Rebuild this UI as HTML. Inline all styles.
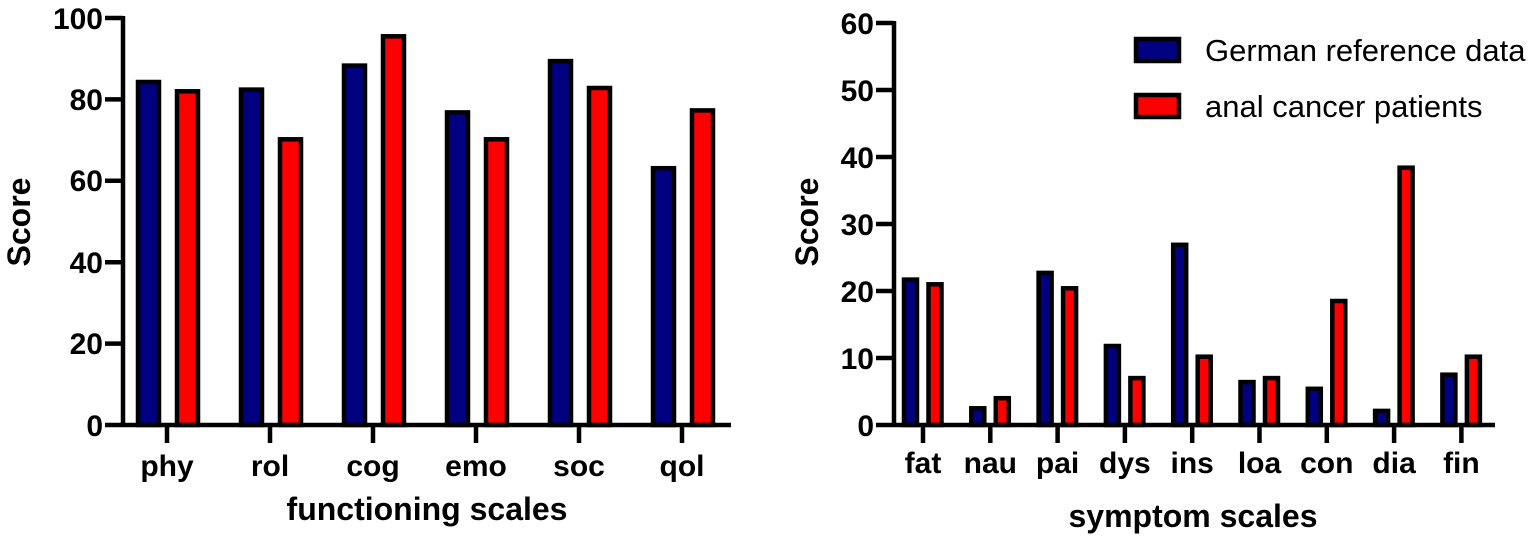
<!DOCTYPE html>
<html><head><meta charset="utf-8"><style>
html,body{margin:0;padding:0;background:#fff;}
svg{display:block;font-family:"Liberation Sans",Arial,sans-serif;}
.t{font-size:30px;font-weight:bold;fill:#000;}
.ti{font-size:32px;font-weight:bold;fill:#000;}
.b{fill:#000080;stroke:#000;stroke-width:4.5;}
.r{fill:#ff0000;stroke:#000;stroke-width:4.5;}
.ax{stroke:#000;stroke-width:4.5;fill:none;}
</style></head><body>
<svg width="1536" height="537" viewBox="0 0 1536 537">
<g>
<rect class="b" x="138" y="82" width="21" height="343"/>
<rect class="r" x="177" y="91.3" width="21" height="333.7"/>
<rect class="b" x="241" y="89.6" width="21" height="335.4"/>
<rect class="r" x="280" y="139.3" width="21" height="285.7"/>
<rect class="b" x="344" y="65.6" width="21" height="359.4"/>
<rect class="r" x="383" y="36.3" width="21" height="388.7"/>
<rect class="b" x="447" y="112.4" width="21" height="312.6"/>
<rect class="r" x="486" y="139.3" width="21" height="285.7"/>
<rect class="b" x="550" y="61.1" width="21" height="363.9"/>
<rect class="r" x="589" y="88" width="21" height="337"/>
<rect class="b" x="653" y="168.2" width="21" height="256.8"/>
<rect class="r" x="692" y="110.4" width="21" height="314.6"/>
<path class="ax" d="M123 16 V425 M105 425 H731"/>
<path class="ax" d="M105 18 H123 M105 99.4 H123 M105 180.8 H123 M105 262.2 H123 M105 343.6 H123
 M167 425 V443 M270 425 V443 M373 425 V443 M476 425 V443 M579 425 V443 M682 425 V443"/>
<g class="t" text-anchor="end">
<text x="103" y="29">100</text><text x="103" y="110">80</text><text x="103" y="191">60</text>
<text x="103" y="273">40</text><text x="103" y="354">20</text><text x="103" y="436">0</text>
</g>
<g class="t" text-anchor="middle">
<text x="167" y="476">phy</text><text x="270" y="476">rol</text><text x="373" y="476">cog</text>
<text x="476" y="476">emo</text><text x="579" y="476">soc</text><text x="682" y="476">qol</text>
</g>
<text class="ti" x="427" y="520" text-anchor="middle">functioning scales</text>
<text class="ti" transform="translate(30,222) rotate(-90)" text-anchor="middle">Score</text>
</g>
<g>
<rect class="b" x="904" y="279.6" width="13" height="145.4"/>
<rect class="r" x="928.5" y="284.3" width="13" height="140.7"/>
<rect class="b" x="971.3" y="408.3" width="13" height="16.7"/>
<rect class="r" x="995.8" y="398.2" width="13" height="26.8"/>
<rect class="b" x="1038.6" y="272.9" width="13" height="152.1"/>
<rect class="r" x="1063.1" y="288.3" width="13" height="136.7"/>
<rect class="b" x="1105.9" y="346" width="13" height="79"/>
<rect class="r" x="1130.4" y="378.1" width="13" height="46.9"/>
<rect class="b" x="1173.2" y="244.8" width="13" height="180.2"/>
<rect class="r" x="1197.7" y="356.7" width="13" height="68.3"/>
<rect class="b" x="1240.5" y="382.1" width="13" height="42.9"/>
<rect class="r" x="1265" y="378.1" width="13" height="46.9"/>
<rect class="b" x="1307.8" y="388.8" width="13" height="36.2"/>
<rect class="r" x="1332.3" y="301" width="13" height="124"/>
<rect class="b" x="1375.1" y="410.9" width="13" height="14.1"/>
<rect class="r" x="1399.6" y="167.7" width="13" height="257.3"/>
<rect class="b" x="1442.4" y="374.7" width="13" height="50.3"/>
<rect class="r" x="1466.9" y="356.7" width="13" height="68.3"/>
<path class="ax" d="M894 21 V425 M876 425 H1495"/>
<path class="ax" d="M876 23 H894 M876 90 H894 M876 157 H894 M876 224 H894 M876 291 H894 M876 358 H894
 M923 425 V443 M990.3 425 V443 M1057.6 425 V443 M1124.9 425 V443 M1192.2 425 V443 M1259.5 425 V443 M1326.8 425 V443 M1394.1 425 V443 M1461.4 425 V443"/>
<g class="t" text-anchor="end">
<text x="874" y="34">60</text><text x="874" y="101">50</text><text x="874" y="168">40</text>
<text x="874" y="235">30</text><text x="874" y="302">20</text><text x="874" y="369">10</text><text x="874" y="436">0</text>
</g>
<g class="t" text-anchor="middle">
<text x="923" y="473">fat</text><text x="990.3" y="473">nau</text><text x="1057.6" y="473">pai</text>
<text x="1124.9" y="473">dys</text><text x="1192.2" y="473">ins</text><text x="1259.5" y="473">loa</text>
<text x="1326.8" y="473">con</text><text x="1394.1" y="473">dia</text><text x="1461.4" y="473">fin</text>
</g>
<text class="ti" x="1193" y="527" text-anchor="middle">symptom scales</text>
<text class="ti" transform="translate(818,222) rotate(-90)" text-anchor="middle">Score</text>
<rect class="b" x="1136" y="39" width="43" height="22"/>
<rect class="r" x="1136" y="95" width="43" height="22"/>
<text x="1205" y="61" style="font-size:31px;fill:#000">German reference data</text>
<text x="1205" y="117" style="font-size:31px;fill:#000">anal cancer patients</text>
</g>
</svg>
</body></html>
